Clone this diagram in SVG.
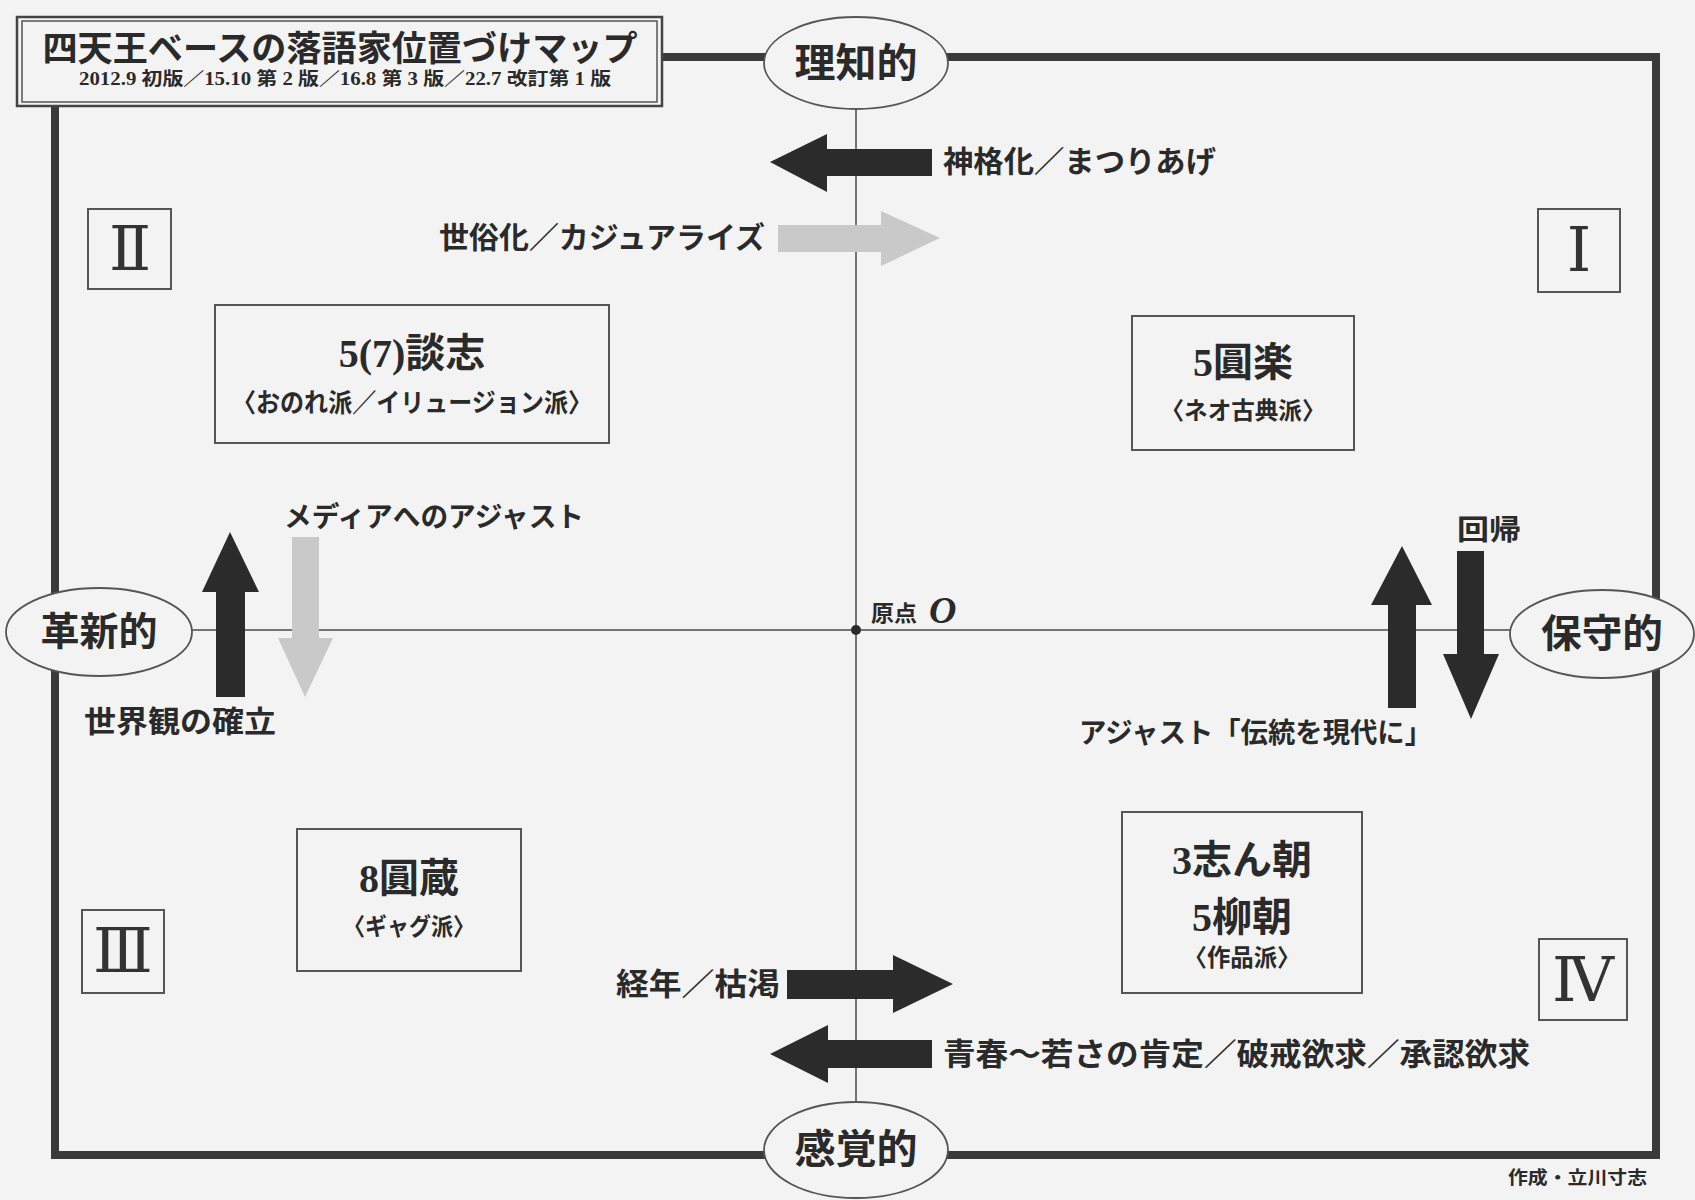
<svg xmlns="http://www.w3.org/2000/svg" width="1695" height="1200" viewBox="0 0 1695 1200">
<style>
.bg{fill:#f3f3f3}
.frame{fill:none;stroke:#3a3a3a;stroke-width:8}
.axis{stroke:#4a4a4a;stroke-width:1.5;fill:none}
.box{fill:none;stroke:#555;stroke-width:2}
.tbox{fill:#f3f3f3;stroke:#444;stroke-width:2.5}
.tin{fill:none;stroke:#555;stroke-width:1.5}
.ell{fill:#f3f3f3;stroke:#555;stroke-width:1.8}
.dark{fill:#2b2b2b}
.light{fill:#c9c9c9}
text{font-family:"Liberation Serif","Noto Sans CJK JP",serif;font-weight:bold;fill:#2a2a2a}
.mid{text-anchor:middle}
.num{font-family:"Liberation Serif","DejaVu Serif",serif;font-weight:normal;font-size:62px;text-anchor:middle;fill:#333}
</style>
<rect class="bg" x="0" y="0" width="1695" height="1200"/>
<rect class="frame" x="55" y="57" width="1601" height="1098"/>

<g id="connectors">
  <line class="axis" x1="856" y1="109" x2="856" y2="1102"/>
  <line class="axis" x1="192" y1="630" x2="1510" y2="630"/>
  <circle cx="856" cy="630" r="5" fill="#2a2a2a"/>
  <polygon class="dark" points="770,162 827,134 827,149 932,149 932,176 827,176 827,192"/>
  <polygon class="light" points="778,225 881,225 881,211 940,238 881,266 881,252 778,252"/>
  <polygon class="light" points="292,537 319,537 319,638 333,638 305,697 278,638 292,638"/>
  <polygon class="dark" points="230,532 259,592 245,592 245,697 216,697 216,592 202,592"/>
  <polygon class="dark" points="1402,546 1432,605 1416,605 1416,708 1388,708 1388,605 1371,605"/>
  <polygon class="dark" points="1457,551 1484,551 1484,654 1499,654 1471,719 1443,654 1457,654"/>
  <polygon class="dark" points="787,970 893,970 893,955 953,984 893,1013 893,999 787,999"/>
  <polygon class="dark" points="770,1054 828,1025 828,1040 932,1040 932,1068 828,1068 828,1083"/>
</g>

<g id="title">
  <rect class="tbox" x="17" y="17" width="645" height="89"/>
  <rect class="tin" x="22" y="21" width="635" height="81"/>
  <text class="mid" x="340" y="61" font-size="35" textLength="595" lengthAdjust="spacingAndGlyphs">四天王ベースの落語家位置づけマップ</text>
  <text class="mid" x="345" y="85" font-size="18" textLength="532" lengthAdjust="spacingAndGlyphs">2012.9 初版／15.10 第 2 版／16.8 第 3 版／22.7 改訂第 1 版</text>
</g>

<g id="axis-top">
  <ellipse class="ell" cx="856" cy="63" rx="92" ry="46"/>
  <text class="mid" x="856" y="77" font-size="40" textLength="123" lengthAdjust="spacingAndGlyphs">理知的</text>
</g>
<g id="axis-bottom">
  <ellipse class="ell" cx="856" cy="1150" rx="92" ry="48"/>
  <text class="mid" x="856" y="1163" font-size="40" textLength="123" lengthAdjust="spacingAndGlyphs">感覚的</text>
</g>
<g id="axis-left">
  <ellipse class="ell" cx="99" cy="632" rx="93" ry="44"/>
  <text class="mid" x="99" y="645" font-size="39" textLength="117" lengthAdjust="spacingAndGlyphs">革新的</text>
</g>
<g id="axis-right">
  <ellipse class="ell" cx="1602" cy="634" rx="92" ry="44"/>
  <text class="mid" x="1602" y="647" font-size="39" textLength="122" lengthAdjust="spacingAndGlyphs">保守的</text>
</g>

<g id="origin">
  <text x="871" y="621" font-size="22" textLength="46" lengthAdjust="spacingAndGlyphs">原点</text>
  <text x="929" y="623" font-size="38" font-style="italic">O</text>
</g>

<g id="q2"><rect class="box" x="88" y="209" width="83" height="80"/><text class="num" x="130" y="270">Ⅱ</text></g>
<g id="q1"><rect class="box" x="1538" y="209" width="82" height="83"/><text class="num" x="1579" y="271">Ⅰ</text></g>
<g id="q3"><rect class="box" x="82" y="910" width="82" height="83"/><text class="num" x="123" y="972">Ⅲ</text></g>
<g id="q4"><rect class="box" x="1539" y="939" width="88" height="81"/><text class="num" x="1583" y="1001">Ⅳ</text></g>

<g id="danshi">
  <rect class="box" x="215" y="305" width="394" height="138"/>
  <text class="mid" x="412" y="367" font-size="40">5(7)談志</text>
  <text class="mid" x="412" y="412" font-size="26" textLength="360" lengthAdjust="spacingAndGlyphs">〈おのれ派／イリュージョン派〉</text>
</g>
<g id="enraku">
  <rect class="box" x="1132" y="316" width="222" height="134"/>
  <text class="mid" x="1243" y="376" font-size="40">5圓楽</text>
  <text class="mid" x="1243" y="419" font-size="24" textLength="165" lengthAdjust="spacingAndGlyphs">〈ネオ古典派〉</text>
</g>
<g id="enzo">
  <rect class="box" x="297" y="829" width="224" height="142"/>
  <text class="mid" x="409" y="892" font-size="40">8圓蔵</text>
  <text class="mid" x="409" y="935" font-size="24" textLength="132" lengthAdjust="spacingAndGlyphs">〈ギャグ派〉</text>
</g>
<g id="shincho">
  <rect class="box" x="1122" y="812" width="240" height="181"/>
  <text class="mid" x="1242" y="874" font-size="40">3志ん朝</text>
  <text class="mid" x="1242" y="931" font-size="40">5柳朝</text>
  <text class="mid" x="1242" y="966" font-size="24" textLength="117" lengthAdjust="spacingAndGlyphs">〈作品派〉</text>
</g>

<g id="labels">
  <text x="943" y="172" font-size="30" textLength="273" lengthAdjust="spacingAndGlyphs">神格化／まつりあげ</text>
  <text x="439" y="248" font-size="30" textLength="326" lengthAdjust="spacingAndGlyphs">世俗化／カジュアライズ</text>
  <text x="284" y="527" font-size="28" textLength="300" lengthAdjust="spacingAndGlyphs">メディアへのアジャスト</text>
  <text x="84" y="732" font-size="30" textLength="192" lengthAdjust="spacingAndGlyphs">世界観の確立</text>
  <text x="1457" y="540" font-size="28" textLength="64" lengthAdjust="spacingAndGlyphs">回帰</text>
  <text x="1079" y="743" font-size="28" textLength="353" lengthAdjust="spacingAndGlyphs">アジャスト「伝統を現代に」</text>
  <text x="616" y="995" font-size="31" textLength="164" lengthAdjust="spacingAndGlyphs">経年／枯渇</text>
  <text x="943" y="1065" font-size="31" textLength="587" lengthAdjust="spacingAndGlyphs">青春～若さの肯定／破戒欲求／承認欲求</text>
  <text x="1508" y="1184" font-size="18" textLength="139" lengthAdjust="spacingAndGlyphs">作成・立川寸志</text>
</g>
</svg>
